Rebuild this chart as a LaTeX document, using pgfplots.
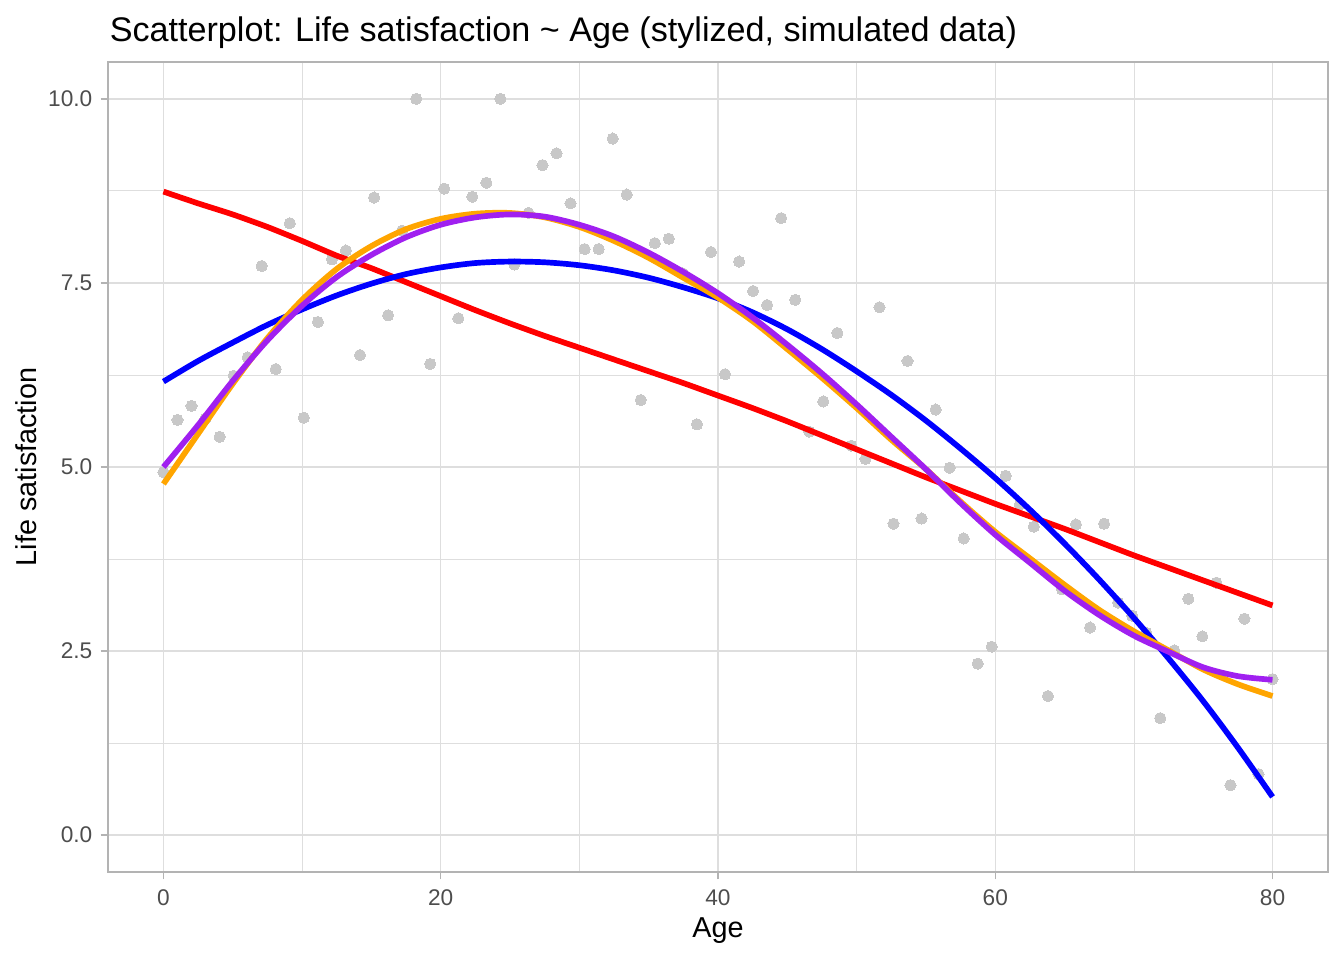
\documentclass[border=0pt]{standalone}
\usepackage{pgfplots}
\pgfplotsset{compat=1.18}
\usepackage{fontspec}
\setmainfont{Liberation Sans}
\definecolor{gray87}{HTML}{DEDEDE}
\definecolor{gray70}{HTML}{B3B3B3}
\definecolor{gray30}{HTML}{4D4D4D}
\definecolor{ptgray}{HTML}{C8C8C8}
\definecolor{rpurple}{HTML}{A020F0}
\definecolor{rorange}{HTML}{FFA500}
\begin{document}
\begin{tikzpicture}
\useasboundingbox (-40.5pt,-33pt) rectangle (463.5pt,327pt);
\begin{axis}[
  at={(0,0)}, anchor=south west,
  scale only axis, width=457.5pt, height=303.75pt,
  xmin=-4, xmax=84, ymin=-0.5, ymax=10.5,
  xtick={0,20,40,60,80},
  ytick={0,2.5,5,7.5,10},
  yticklabels={0.0,2.5,5.0,7.5,10.0},
  minor xtick={10,30,50,70},
  minor ytick={1.25,3.75,6.25,8.75},
  grid=both,
  major grid style={draw=gray87, line width=0.53pt},
  minor grid style={draw=gray87, line width=0.3pt},
  axis line style={draw=gray70, line width=0.65pt},
  tick align=outside, tick pos=left,
  major tick length=2.75pt, minor tick length=0pt,
  major tick style={draw=gray70, line width=0.53pt},
  /pgf/number format/assume math mode=true,
  tick label style={font=\fontsize{8.5pt}{10pt}\selectfont, text=gray30, inner sep=0pt},
  xticklabel style={anchor=base, yshift=-9.85pt},
  yticklabel style={anchor=east, xshift=-2.95pt},
  clip=true, clip marker paths=true,
]
\addplot[only marks, color=ptgray, mark=*, mark size=2.1pt, mark options={solid, draw=ptgray, fill=ptgray, line width=0pt}] coordinates {
(0,4.93) (1.0127,5.64) (2.0253,5.83) (3.0380,5.66) (4.0506,5.41) (5.0633,6.24) (6.0759,6.49) (7.0886,7.73) (8.1013,6.33) (9.1139,8.31)
(10.1266,5.67) (11.1392,6.97) (12.1519,7.82) (13.1646,7.94) (14.1772,6.52) (15.1899,8.66) (16.2025,7.06) (17.2152,8.21) (18.2278,10.00) (19.2405,6.40)
(20.2532,8.78) (21.2658,7.02) (22.2785,8.67) (23.2911,8.86) (24.3038,10.00) (25.3165,7.75) (26.3291,8.45) (27.3418,9.10) (28.3544,9.26) (29.3671,8.58)
(30.3797,7.96) (31.3924,7.96) (32.4051,9.46) (33.4177,8.70) (34.4304,5.91) (35.4430,8.04) (36.4557,8.10) (37.4684,7.63) (38.4810,5.58) (39.4937,7.92)
(40.5063,6.26) (41.5190,7.79) (42.5316,7.39) (43.5443,7.20) (44.5570,8.38) (45.5696,7.27) (46.5823,5.48) (47.5949,5.89) (48.6076,6.82) (49.6203,5.29)
(50.6329,5.11) (51.6456,7.17) (52.6582,4.23) (53.6709,6.44) (54.6835,4.30) (55.6962,5.78) (56.7089,4.99) (57.7215,4.03) (58.7342,2.33) (59.7468,2.56)
(60.7595,4.88) (61.7722,4.49) (62.7848,4.19) (63.7975,1.89) (64.8101,3.34) (65.8228,4.22) (66.8354,2.82) (67.8481,4.23) (68.8608,3.16) (69.8734,2.98)
(70.8861,2.75) (71.8987,1.59) (72.9114,2.51) (73.9241,3.21) (74.9367,2.70) (75.9494,3.43) (76.9620,0.68) (77.9747,2.94) (78.9873,0.83) (80,2.12)
};
\addplot[red, line width=2.13pt, smooth, tension=0.3] coordinates {
(0,8.74) (2.5,8.58) (5,8.43) (7.5,8.26) (10,8.07) (12.5,7.87) (15,7.70) (17.5,7.51) (20,7.32) (22.5,7.13) (25,6.95) (27.5,6.78) (30,6.62) (32.5,6.46) (35,6.30) (37.5,6.14) (40,5.97) (42.5,5.80) (45,5.62) (47.5,5.43) (50,5.24) (52.5,5.05) (55,4.86) (57.5,4.68) (60,4.50) (62.5,4.33) (65,4.16) (67.5,3.98) (70,3.80) (72.5,3.63) (75,3.46) (77.5,3.29) (80,3.12)
};
\addplot[blue, line width=2.13pt, smooth, tension=0.5] coordinates {
(0,6.16) (2.5,6.44) (5,6.69) (7.5,6.93) (10,7.14) (12.5,7.33) (15,7.49) (17.5,7.62) (20,7.71) (22.5,7.77) (25,7.79) (27.5,7.78) (30,7.74) (32.5,7.67) (35,7.57) (37.5,7.44) (40,7.29) (42.5,7.10) (45,6.87) (47.5,6.60) (50,6.30) (52.5,5.98) (55,5.63) (57.5,5.25) (60,4.85) (62.5,4.42) (65,3.96) (67.5,3.47) (70,2.95) (72.5,2.40) (75,1.82) (77.5,1.19) (80,0.52)
};
\addplot[rorange, line width=2.13pt, smooth, tension=0.5] coordinates {
(0,4.77) (2.5,5.45) (5,6.13) (7.5,6.75) (10,7.27) (12.5,7.69) (15,8.00) (17.5,8.23) (20,8.37) (22.5,8.44) (25,8.45) (27.5,8.39) (30,8.26) (32.5,8.07) (35,7.84) (37.5,7.57) (40,7.30) (42.5,6.98) (45,6.60) (47.5,6.21) (50,5.80) (52.5,5.37) (55,4.97) (57.5,4.53) (60,4.12) (62.5,3.76) (65,3.40) (67.5,3.06) (70,2.77) (72.5,2.51) (75,2.25) (77.5,2.05) (80,1.89)
};
\addplot[rpurple, line width=2.13pt, smooth, tension=0.5] coordinates {
(0,5.00) (2.5,5.57) (5,6.17) (7.5,6.72) (10,7.19) (12.5,7.58) (15,7.88) (17.5,8.12) (20,8.29) (22.5,8.39) (25,8.43) (27.5,8.40) (30,8.29) (32.5,8.13) (35,7.91) (37.5,7.65) (40,7.36) (42.5,7.03) (45,6.66) (47.5,6.27) (50,5.85) (52.5,5.41) (55,4.97) (57.5,4.51) (60,4.08) (62.5,3.70) (65,3.32) (67.5,2.99) (70,2.71) (72.5,2.49) (75,2.28) (77.5,2.16) (80,2.11)
};
\end{axis}
\node[anchor=base west, inner sep=0pt] at (0.5pt,311.6pt) {\fontsize{12.8pt}{15pt}\selectfont Scatterplot: Life satisfaction \textasciitilde{} Age (stylized, simulated data)};
\node[anchor=base, inner sep=0pt] at (228.75pt,-24.6pt) {\fontsize{10.8pt}{13pt}\selectfont Age};
\node[anchor=base, rotate=90, inner sep=0pt] at (-26.7pt,151.9pt) {\fontsize{10.8pt}{13pt}\selectfont Life satisfaction};
\end{tikzpicture}
\end{document}
